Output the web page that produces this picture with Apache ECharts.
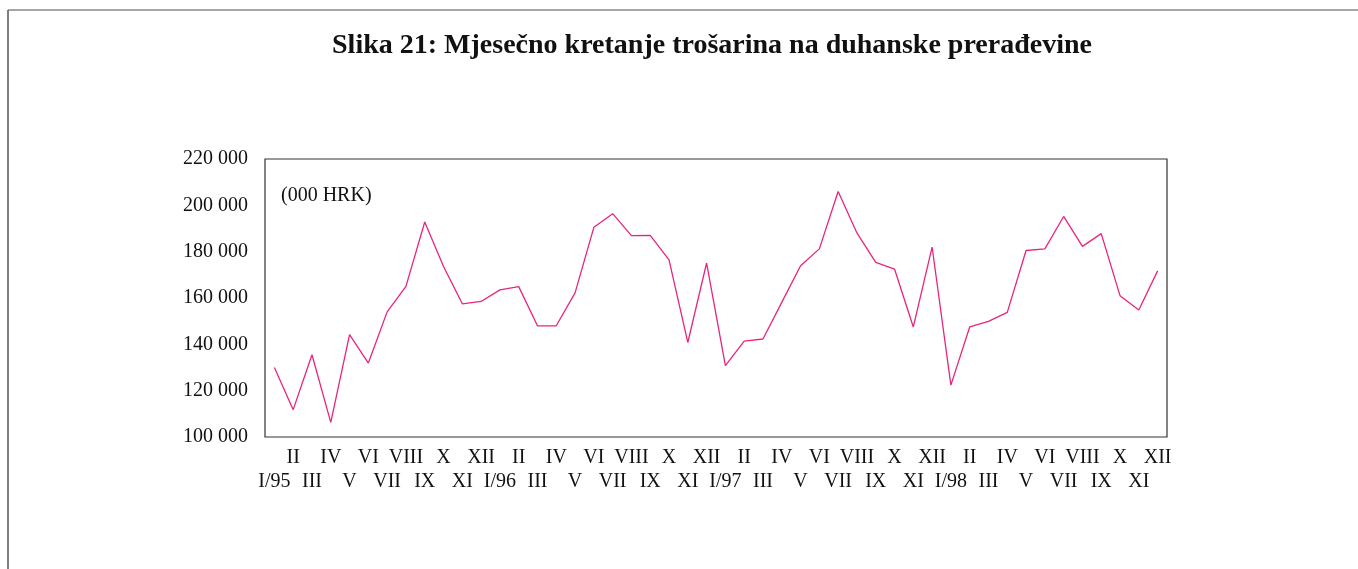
<!DOCTYPE html>
<html>
<head>
<meta charset="utf-8">
<title>Slika 21</title>
<script src="https://cdn.jsdelivr.net/npm/echarts@6/dist/echarts.min.js"></script>
<style>
  html, body { margin: 0; padding: 0; background: #fff; }
  #chart { width: 1358px; height: 569px; }
</style>
</head>
<body>
<div id="chart"></div>
<script>
// Month labels, January 1995 – December 1998
const monthLabels = [
  'I/95','II','III','IV','V','VI','VII','VIII','IX','X','XI','XII',
  'I/96','II','III','IV','V','VI','VII','VIII','IX','X','XI','XII',
  'I/97','II','III','IV','V','VI','VII','VIII','IX','X','XI','XII',
  'I/98','II','III','IV','V','VI','VII','VIII','IX','X','XI','XII'
];

// Monthly excise duties on tobacco products, thousand HRK
const exciseValues = [
  130000, 111800, 135500, 106300, 144200, 131900, 154000, 165000, 192800, 173600, 157500, 158500,
  163500, 164900, 148000, 148000, 162200, 190500, 196400, 186900, 187000, 176500, 140800, 175100,
  130800, 141400, 142300, 158100, 173900, 181200, 206000, 188100, 175400, 172500, 147500, 182000,
  122400, 147500, 149900, 153800, 180500, 181200, 195200, 182300, 187800, 161000, 154800, 171700
];

const yTicks = { min: 100000, max: 220000, step: 20000 };

const serif = '"Liberation Serif", "DejaVu Serif", serif';
const chart = echarts.init(document.getElementById('chart'), null, { renderer: 'canvas' });

function fmtThousands(v) {
  return String(v).replace(/\B(?=(\d{3})+(?!\d))/g, ' ');
}

const labelStyle = { fontFamily: serif, fontSize: 20, color: '#111' };

chart.setOption({
  animation: false,
  backgroundColor: '#fff',
  grid: {
    left: 265, right: 191, top: 159, bottom: 132,
    show: true, borderColor: '#333', borderWidth: 1.2, backgroundColor: 'transparent'
  },
  xAxis: [
    {
      type: 'category', data: monthLabels, boundaryGap: true, position: 'bottom',
      axisLine: { show: false }, axisTick: { show: false }, splitLine: { show: false },
      axisLabel: Object.assign({}, labelStyle, {
        margin: 11,
        interval: (i) => i % 2 === 1
      })
    },
    {
      type: 'category', data: monthLabels, boundaryGap: true, position: 'bottom', offset: 0,
      axisLine: { show: false }, axisTick: { show: false }, splitLine: { show: false },
      axisLabel: Object.assign({}, labelStyle, {
        margin: 35,
        interval: (i) => i % 2 === 0
      })
    }
  ],
  yAxis: {
    type: 'value', min: yTicks.min, max: yTicks.max, interval: yTicks.step,
    axisLine: { show: false }, axisTick: { show: false }, splitLine: { show: false },
    axisLabel: Object.assign({}, labelStyle, { margin: 17, formatter: fmtThousands, padding: [4, 0, 0, 0] })
  },
  series: [{
    type: 'line', data: exciseValues, xAxisIndex: 0,
    symbol: 'none', smooth: false,
    lineStyle: { color: '#e8257d', width: 1.3 }
  }],
  graphic: [
    { type: 'line', shape: { x1: 8, y1: 10, x2: 1358, y2: 10 }, style: { stroke: '#888', lineWidth: 1.5 } },
    { type: 'line', shape: { x1: 8, y1: 10, x2: 8, y2: 569 }, style: { stroke: '#555', lineWidth: 1.5 } },
    {
      type: 'text', x: 712, y: 46,
      style: {
        text: 'Slika 21: Mjesečno kretanje trošarina na duhanske prerađevine',
        fontFamily: serif, fontSize: 28, fontWeight: 'bold', fill: '#111',
        textAlign: 'center', textVerticalAlign: 'middle'
      }
    },
    {
      type: 'text', x: 281, y: 196,
      style: {
        text: '(000 HRK)', fontFamily: serif, fontSize: 20, fill: '#111',
        textAlign: 'left', textVerticalAlign: 'middle'
      }
    }
  ]
});
</script>
</body>
</html>
